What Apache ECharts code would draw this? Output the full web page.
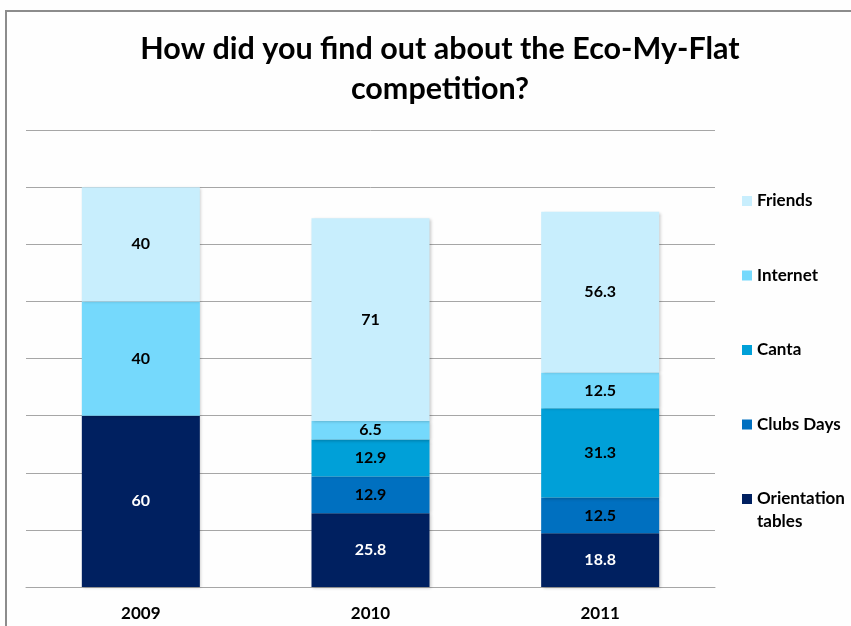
<!DOCTYPE html>
<html>
<head>
<meta charset="utf-8">
<script src="https://cdn.jsdelivr.net/npm/echarts@6/dist/echarts.min.js"></script>
<style>
  html, body { margin: 0; padding: 0; background: #ffffff; }
  #chart { width: 851px; height: 626px; }
</style>
</head>
<body>
<div id="chart"></div>
<script>
// Survey: how students heard about the Eco-My-Flat competition, by year
const years = ['2009', '2010', '2011'];
const orientationTables = [60, 25.8, 18.8];
const clubsDays = [0, 12.9, 12.5];
const canta = [0, 12.9, 31.3];
const internet = [40, 6.5, 12.5];
const friends = [40, 71, 56.3];

const yMin = 0;
const yMax = 160;
const yStep = 20;

const FONT = 'Lato, "Open Sans", sans-serif';

const seriesDefs = [
  { name: 'Orientation tables', data: orientationTables, color: '#002060', labelColor: '#ffffff' },
  { name: 'Clubs Days', data: clubsDays, color: '#0070c0', labelColor: '#000000' },
  { name: 'Canta', data: canta, color: '#00a0d8', labelColor: '#000000' },
  { name: 'Internet', data: internet, color: '#75d9fc', labelColor: '#000000' },
  { name: 'Friends', data: friends, color: '#c8eefd', labelColor: '#000000' }
];

const legendText = {
  fontFamily: FONT,
  fontWeight: 'bold',
  fontSize: 17,
  lineHeight: 23,
  color: '#000000'
};

const chart = echarts.init(document.getElementById('chart'), null, { renderer: 'canvas' });

const option = {
  backgroundColor: '#fefefe',
  animation: false,
  title: {
    text: 'How did you find out about the Eco-My-Flat\ncompetition?',
    left: 435,
    textAlign: 'center',
    top: 24,
    textStyle: {
      fontFamily: FONT,
      fontWeight: 'bold',
      fontSize: 30.5,
      lineHeight: 40,
      color: '#000000'
    }
  },
  legend: [
    {
      orient: 'vertical',
      left: 737,
      top: 184.5,
      itemWidth: 10,
      itemHeight: 10,
      itemGap: 51.5,
      icon: 'rect',
      data: ['Friends', 'Internet', 'Canta', 'Clubs Days'],
      textStyle: legendText
    },
    {
      orient: 'vertical',
      left: 737,
      top: 462.5,
      itemWidth: 10,
      itemHeight: 10,
      icon: 'rect',
      data: ['Orientation tables'],
      formatter: function () {
        return '{two|Orientation\ntables}';
      },
      textStyle: Object.assign({}, legendText, {
        rich: {
          two: Object.assign({}, legendText, { padding: [23, 0, 0, 0] })
        }
      })
    }
  ],
  grid: {
    left: 26,
    right: 136,
    top: 130,
    bottom: 39,
    containLabel: false
  },
  xAxis: {
    type: 'category',
    data: years,
    axisLine: { show: true, lineStyle: { color: '#a6a6a6', width: 1 } },
    axisTick: { show: false },
    axisLabel: {
      fontFamily: FONT,
      fontWeight: 'bold',
      fontSize: 17,
      color: '#000000',
      margin: 18
    }
  },
  yAxis: {
    type: 'value',
    min: yMin,
    max: yMax,
    interval: yStep,
    axisLine: { show: false },
    axisTick: { show: false },
    axisLabel: { show: false },
    splitLine: { show: true, lineStyle: { color: '#a6a6a6', width: 1 } }
  },
  graphic: [
    {
      type: 'line',
      shape: { x1: 6, y1: 11, x2: 851, y2: 11 },
      style: { stroke: '#8c8c8c', lineWidth: 2 },
      z: 100
    },
    {
      type: 'line',
      shape: { x1: 6, y1: 10, x2: 6, y2: 626 },
      style: { stroke: '#8c8c8c', lineWidth: 2 },
      z: 100
    }
  ],
  series: seriesDefs.map(function (s) {
    return {
      name: s.name,
      type: 'bar',
      stack: 'total',
      barWidth: 118,
      data: s.data,
      itemStyle: {
        color: s.color,
        shadowColor: 'rgba(0,0,0,0.22)',
        shadowBlur: 3,
        shadowOffsetX: 1.5,
        shadowOffsetY: 1
      },
      label: {
        show: true,
        position: 'inside',
        fontFamily: FONT,
        fontWeight: 'bold',
        fontSize: 16,
        color: s.labelColor,
        formatter: function (p) {
          return p.value ? String(p.value) : '';
        }
      }
    };
  })
};

chart.setOption(option);
</script>
</body>
</html>
